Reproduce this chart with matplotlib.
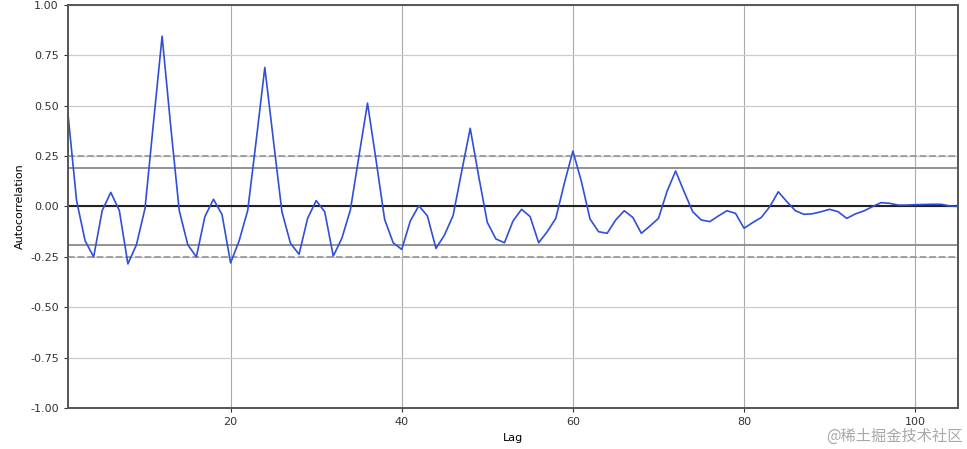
import numpy as np
import matplotlib
matplotlib.use("Agg")
import matplotlib.pyplot as plt

# autocorrelation values, lag 1..105
acf = [
    0.46, 0.03, -0.17, -0.25, -0.02, 0.07, -0.02, -0.285, -0.19, -0.01,
    0.42, 0.845, 0.40, -0.02, -0.19, -0.25, -0.05, 0.036, -0.04, -0.28,
    -0.17, -0.02, 0.33, 0.69, 0.33, -0.026, -0.183, -0.237, -0.059, 0.029,
    -0.026, -0.246, -0.158, -0.017, 0.25, 0.513, 0.23, -0.064, -0.18, -0.213,
    -0.072, 0.004, -0.047, -0.208, -0.141, -0.045, 0.173, 0.388, 0.148, -0.079,
    -0.161, -0.18, -0.072, -0.014, -0.05, -0.18, -0.125, -0.059, 0.115, 0.275,
    0.123, -0.062, -0.125, -0.133, -0.067, -0.021, -0.054, -0.133, -0.097, -0.059,
    0.075, 0.176, 0.073, -0.026, -0.067, -0.075, -0.047, -0.021, -0.034, -0.108,
    -0.08, -0.055, -0.001, 0.073, 0.024, -0.021, -0.039, -0.036, -0.026, -0.014,
    -0.026, -0.059, -0.037, -0.022, -0.001, 0.019, 0.016, 0.007, 0.007, 0.009,
    0.01, 0.011, 0.011, 0.003, 0.0,
]
lags = np.arange(len(acf)) + 1
n = len(acf)
z95 = 1.959963984540054
z99 = 2.5758293035489
xticks = [20, 40, 60, 80, 100]
yticks = [-1.0, -0.75, -0.5, -0.25, 0.0, 0.25, 0.5, 0.75, 1.0]

fig = plt.figure(figsize=(9.67, 4.49), dpi=100)
ax = fig.add_axes([0.0703, 0.0913, 0.9204, 0.8976])

ax.axhline(y=z99 / np.sqrt(n), linestyle="--", color="#9a9a9a", lw=1.3)
ax.axhline(y=z95 / np.sqrt(n), color="#8a8a8a", lw=1.3)
ax.axhline(y=0.0, color="#222222", lw=1.5)
ax.axhline(y=-z95 / np.sqrt(n), color="#8a8a8a", lw=1.3)
ax.axhline(y=-z99 / np.sqrt(n), linestyle="--", color="#9a9a9a", lw=1.3)

ax.plot(lags, acf, color="#2f4fd8", lw=1.2)

ax.set_xlim(1, n)
ax.set_ylim(-1.0, 1.0)
ax.set_xticks(xticks)
ax.set_yticks(yticks)
ax.set_yticklabels(["{:.2f}".format(v) for v in yticks])
ax.tick_params(labelsize=8, colors="#333333", length=3)
ax.set_xlabel("Lag", fontsize=8, labelpad=4)
ax.set_ylabel("Autocorrelation", fontsize=8, labelpad=4)
ax.grid(True, axis="y", color="#cccccc", lw=0.9)
ax.grid(True, axis="x", color="#aaaaaa", lw=0.8)
ax.set_axisbelow(True)
for sp in ax.spines.values():
    sp.set_color("#555555")
    sp.set_linewidth(1.4)

fig.text(0.995, 0.01, "@稀土掘金技术社区", ha="right", va="bottom", fontsize=11,
         color="#a8a8a8", family=["Noto Sans CJK SC", "DejaVu Sans"])

fig.savefig("out.png", dpi=100)
